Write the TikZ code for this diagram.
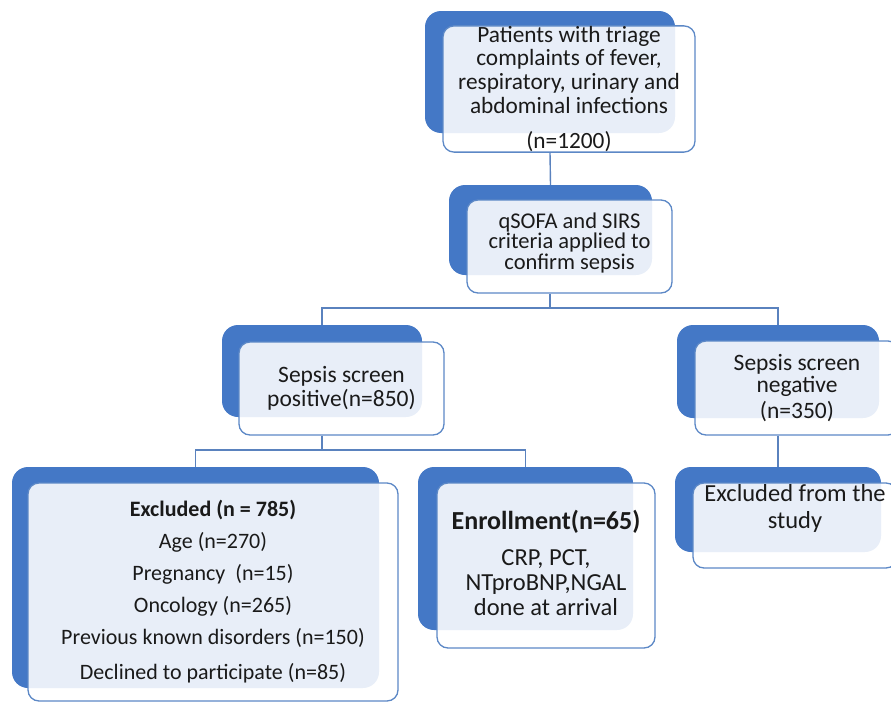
\documentclass[tikz,border=0pt]{standalone}
\usepackage{fontspec}
\setmainfont{Carlito}
\definecolor{backblue}{HTML}{4478C6}
\definecolor{edgeblue}{HTML}{5C88C6}
\definecolor{linkblue}{HTML}{5A82BE}
\definecolor{inktext}{HTML}{1A1A1A}
\tikzset{
  backbox/.style={fill=backblue, rounded corners=16pt, inner sep=0pt},
  frontbox/.style={draw=edgeblue, line width=1.3pt, fill=white, fill opacity=0.88,
    text opacity=1, rounded corners=11pt, align=center, inner sep=0pt, text=inktext},
  link/.style={draw=linkblue, line width=1.4pt},
}
\begin{document}
\begin{tikzpicture}[x=1pt, y=-1pt]
    % Step 0: 그림 크기
    \useasboundingbox (0,0) rectangle (891,704);
    \clip (0,0) rectangle (891,704);

    % Step 1: 뒤쪽 파란 상자
    \node[backbox, minimum width=250, minimum height=122] (patientsbg) at (550,72) {};
    \node[backbox, minimum width=203, minimum height=90] (qsofabg) at (550.5,230) {};
    \node[backbox, minimum width=200, minimum height=92] (positivebg) at (322,371) {};
    \node[backbox, minimum width=202, minimum height=93] (negativebg) at (778,371.5) {};
    \node[backbox, minimum width=206, minimum height=85] (studybg) at (778,509.5) {};
    \node[backbox, minimum width=367, minimum height=221] (excludedbg) at (195.5,577.5) {};
    \node[backbox, minimum width=215, minimum height=163] (enrollbg) at (525.5,548.5) {};

    % Step 2: 앞쪽 상자 (글자)
    \node[frontbox, minimum width=252, minimum height=122, font=\fontsize{23.3}{23.7}\selectfont] (patients) at (569,89)
        {Patients with triage\\complaints of fever,\\respiratory, urinary and\\abdominal infections\\[12pt](n=1200)};
    \node[frontbox, minimum width=205, minimum height=93] (qsofa) at (569.5,246.5) {};
    \node[font=\fontsize{22.5}{20.5}\selectfont, text=inktext, align=center] at ([yshift=4pt]qsofa.center)
        {qSOFA and SIRS\\criteria applied to\\confirm sepsis};
    \node[frontbox, minimum width=205, minimum height=93, font=\fontsize{23.5}{24}\selectfont] (positive) at (341.5,388.5)
        {Sepsis screen\\positive(n=850)};
    \node[frontbox, minimum width=204, minimum height=94, font=\fontsize{23.5}{22}\selectfont] (negative) at (797,388)
        {Sepsis screen\\negative\\[4pt](n=350)};
    \node[frontbox, minimum width=204, minimum height=85] (study) at (795,525.5) {};
    \node[font=\fontsize{24.5}{27}\selectfont, text=inktext, align=center] at ([yshift=17pt]study.center)
        {Excluded from the\\study};
    \node[frontbox, minimum width=370, minimum height=218, font=\fontsize{22}{32}\selectfont] (excluded) at (213,592)
        {\textbf{Excluded (n = 785)}\\Age (n=270)\\Pregnancy~ (n=15)\\Oncology (n=265)\\Previous known disorders (n=150)\\[3pt]Declined to participate (n=85)};
    \node[frontbox, minimum width=218, minimum height=165] (enroll) at (546,565.5) {};
    \node[font=\fontsize{24.5}{25}\selectfont, text=inktext, align=center] at ([yshift=3pt]enroll.center)
        {\textbf{\fontsize{26}{25}\selectfont Enrollment(n=65)}\\[11pt]CRP, PCT,\\NTproBNP,NGAL\\done at arrival};

    % Step 3: 연결선
    \coordinate (split1) at (550,308);
    \coordinate (split2) at (322,450);
    \draw[link] (patients.south -| patientsbg.south) -- (qsofabg.north);
    \draw[link] (qsofa.south -| split1) -- (split1);
    \draw[link] (positivebg.north) |- (split1) -| (negativebg.north);
    \draw[link] (positive.south -| split2) -- (split2);
    \draw[link] (excludedbg.north) |- (split2) -| (enrollbg.north);
    \draw[link] (negative.south -| negativebg.north) -- (studybg.north);

\end{tikzpicture}
\end{document}
